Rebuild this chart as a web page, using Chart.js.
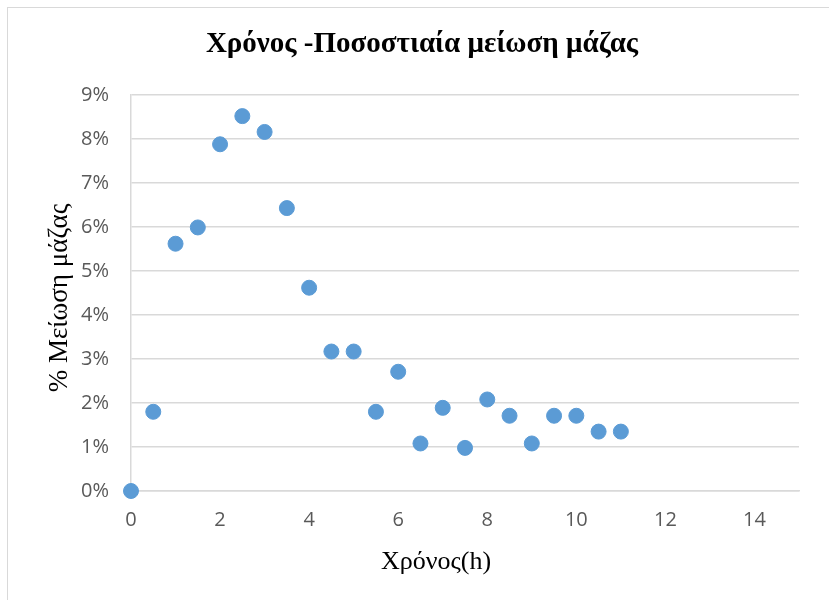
<!DOCTYPE html>
<html>
<head>
<meta charset="utf-8">
<script src="https://cdn.jsdelivr.net/npm/chart.js@4/dist/chart.umd.min.js"></script>
<style>
  body{margin:0;background:#fff;overflow:hidden;}
  #wrap{position:relative;width:829px;height:600px;}
  #frame{position:absolute;left:7px;top:7px;width:900px;height:700px;border-left:1.5px solid #d9d9d9;border-top:1.5px solid #d9d9d9;}
  canvas{position:absolute;left:0;top:0;}
</style>
</head>
<body>
<div id="wrap">
  <div id="frame"></div>
  <canvas id="c" width="829" height="600"></canvas>
</div>
<script>
// time in hours, mass loss in %
const hours = [0, 0.5, 1, 1.5, 2, 2.5, 3, 3.5, 4, 4.5, 5, 5.5, 6, 6.5, 7, 7.5, 8, 8.5, 9, 9.5, 10, 10.5, 11];
const lossPct = [0, 1.8, 5.62, 5.99, 7.88, 8.52, 8.16, 6.43, 4.62, 3.17, 3.17, 1.8, 2.71, 1.08, 1.89, 0.98, 2.08, 1.71, 1.08, 1.71, 1.71, 1.35, 1.35];

const chartTitle = 'Χρόνος -Ποσοστιαία μείωση μάζας';
const xTitle = 'Χρόνος(h)';
const yTitle = '% Μείωση μάζας';

const points = hours.map((h, i) => ({x: h, y: lossPct[i]}));

const tickFont = {family: '"Open Sans", "Liberation Sans", sans-serif', size: 20};
const serif = '"Liberation Serif", "Times New Roman", serif';

const textPlugin = {
  id: 'texts',
  afterDraw(chart){
    const ctx = chart.ctx;
    ctx.save();
    ctx.fillStyle = '#000';
    ctx.textAlign = 'center';
    ctx.textBaseline = 'middle';
    ctx.font = 'bold 29px ' + serif;
    ctx.fillText(chartTitle, 422, 45);
    ctx.font = '26px ' + serif;
    ctx.fillText(xTitle, 436, 562);
    ctx.font = '27px ' + serif;
    ctx.translate(60, 298);
    ctx.rotate(-Math.PI / 2);
    ctx.fillText(yTitle, 0, 0);
    ctx.restore();
  }
};

new Chart(document.getElementById('c').getContext('2d'), {
  type: 'scatter',
  data: {
    datasets: [{
      data: points,
      backgroundColor: '#5b9bd5',
      borderColor: '#5b9bd5',
      pointRadius: 7.5,
      pointHoverRadius: 7.5,
      clip: false
    }]
  },
  options: {
    responsive: false,
    animation: false,
    layout: {padding: {top: 95, right: 30, left: 0, bottom: 0}},
    plugins: {legend: {display: false}, tooltip: {enabled: false}, title: {display: false}},
    scales: {
      x: {
        type: 'linear',
        min: 0, max: 15,
        afterFit: s => { s.height = 109; },
        afterBuildTicks: s => { s.ticks = s.ticks.filter(t => t.value <= 14); },
        ticks: {stepSize: 2, color: '#595959', font: tickFont, padding: 17},
        grid: {display: false, drawTicks: false},
        border: {display: true, color: '#d9d9d9', width: 1.5}
      },
      y: {
        min: 0, max: 9,
        afterFit: s => { s.width = 131; },
        ticks: {stepSize: 1, color: '#595959', font: tickFont, padding: 22, callback: v => v + '%'},
        grid: {color: '#d9d9d9', lineWidth: 1.5, drawTicks: false},
        border: {display: true, color: '#d9d9d9', width: 1.5}
      }
    }
  },
  plugins: [textPlugin]
});
</script>
</body>
</html>
